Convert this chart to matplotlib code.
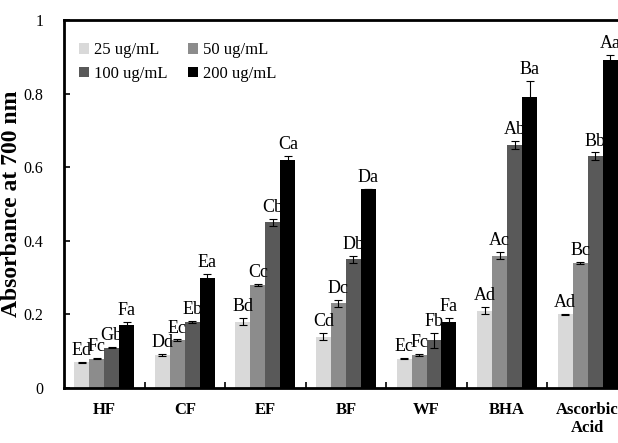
import numpy as np
import matplotlib.pyplot as plt

plt.rcParams['font.family'] = ['Liberation Serif', 'DejaVu Serif']

groups = ["HF", "CF", "EF", "BF", "WF", "BHA", "Ascorbic\nAcid"]
series = ["25 ug/mL", "50 ug/mL", "100 ug/mL", "200 ug/mL"]
colors = ["#d9d9d9", "#8c8c8c", "#595959", "#000000"]

v25 = [0.07, 0.09, 0.18, 0.14, 0.08, 0.21, 0.20]
v50 = [0.08, 0.13, 0.28, 0.23, 0.09, 0.36, 0.34]
v100 = [0.11, 0.18, 0.45, 0.35, 0.13, 0.66, 0.63]
v200 = [0.17, 0.30, 0.62, 0.54, 0.18, 0.79, 0.89]

e25 = [0.002, 0.002, 0.01, 0.01, 0.002, 0.01, 0.002]
e50 = [0.002, 0.002, 0.002, 0.01, 0.002, 0.01, 0.002]
e100 = [0.002, 0.002, 0.01, 0.01, 0.02, 0.01, 0.01]
e200 = [0.01, 0.01, 0.01, 0.0, 0.01, 0.045, 0.015]

l25 = ["Ed", "Dd", "Bd", "Cd", "Ec", "Ad", "Ad"]
l50 = ["Fc", "Ec", "Cc", "Dc", "Fc", "Ac", "Bc"]
l100 = ["Gb", "Eb", "Cb", "Db", "Fb", "Ab", "Bb"]
l200 = ["Fa", "Ea", "Ca", "Da", "Fa", "Ba", "Aa"]

values = [v25, v50, v100, v200]
errors = [e25, e50, e100, e200]
letters = [l25, l50, l100, l200]

fig = plt.figure(figsize=(6.18, 4.43), dpi=100)
ax = fig.add_axes([0.1036, 0.124, 1.016 - 0.1036, 0.955 - 0.124])

x = np.arange(len(groups))
w = 0.186
bars = []
for i in range(4):
    pos = x + (i - 1.5) * w
    b = ax.bar(pos, values[i], w, color=colors[i], label=series[i],
               yerr=errors[i], error_kw=dict(ecolor="black", elinewidth=0.8,
                                             capsize=3, capthick=0.8))
    bars.append(b)
    for j in range(len(groups)):
        ax.text(pos[j], values[i][j] + errors[i][j] + 0.008, letters[i][j],
                ha="center", va="bottom", fontsize=13)

ax.set_xlim(-0.5, 6.5)
ax.set_ylim(0, 1)
ax.set_yticks([0, 0.2, 0.4, 0.6, 0.8, 1.0])
ax.set_yticklabels(["0", "0.2", "0.4", "0.6", "0.8", "1"], fontsize=11.5)
ax.set_xticks(x)
ax.set_xticklabels(groups, fontsize=12, fontweight="bold")
ax.set_xticks(np.arange(0.5, 6.5, 1.0), minor=True)
ax.tick_params(axis="x", which="major", length=0, pad=10)
ax.tick_params(axis="x", which="minor", direction="in", length=4, width=1.2)
ax.tick_params(axis="y", direction="in", length=4, width=1.2, pad=15)

ax.spines["right"].set_visible(False)
for s in ["left", "bottom", "top"]:
    ax.spines[s].set_linewidth(2)

ax.set_ylabel("Absorbance at 700 nm", fontsize=17, fontweight="bold")
ax.yaxis.set_label_coords(-0.074, 0.5)

# row-wise order: 25, 50 / 100, 200
order = [0, 2, 1, 3]
ax.legend([bars[k] for k in order], [series[k] for k in order],
          loc="upper left", ncol=2, frameon=False, fontsize=12,
          handlelength=0.6, handleheight=0.6, handletextpad=0.3,
          columnspacing=1.2, labelspacing=0.45,
          bbox_to_anchor=(0.0, 0.98))

fig.savefig("out.png", dpi=100)
